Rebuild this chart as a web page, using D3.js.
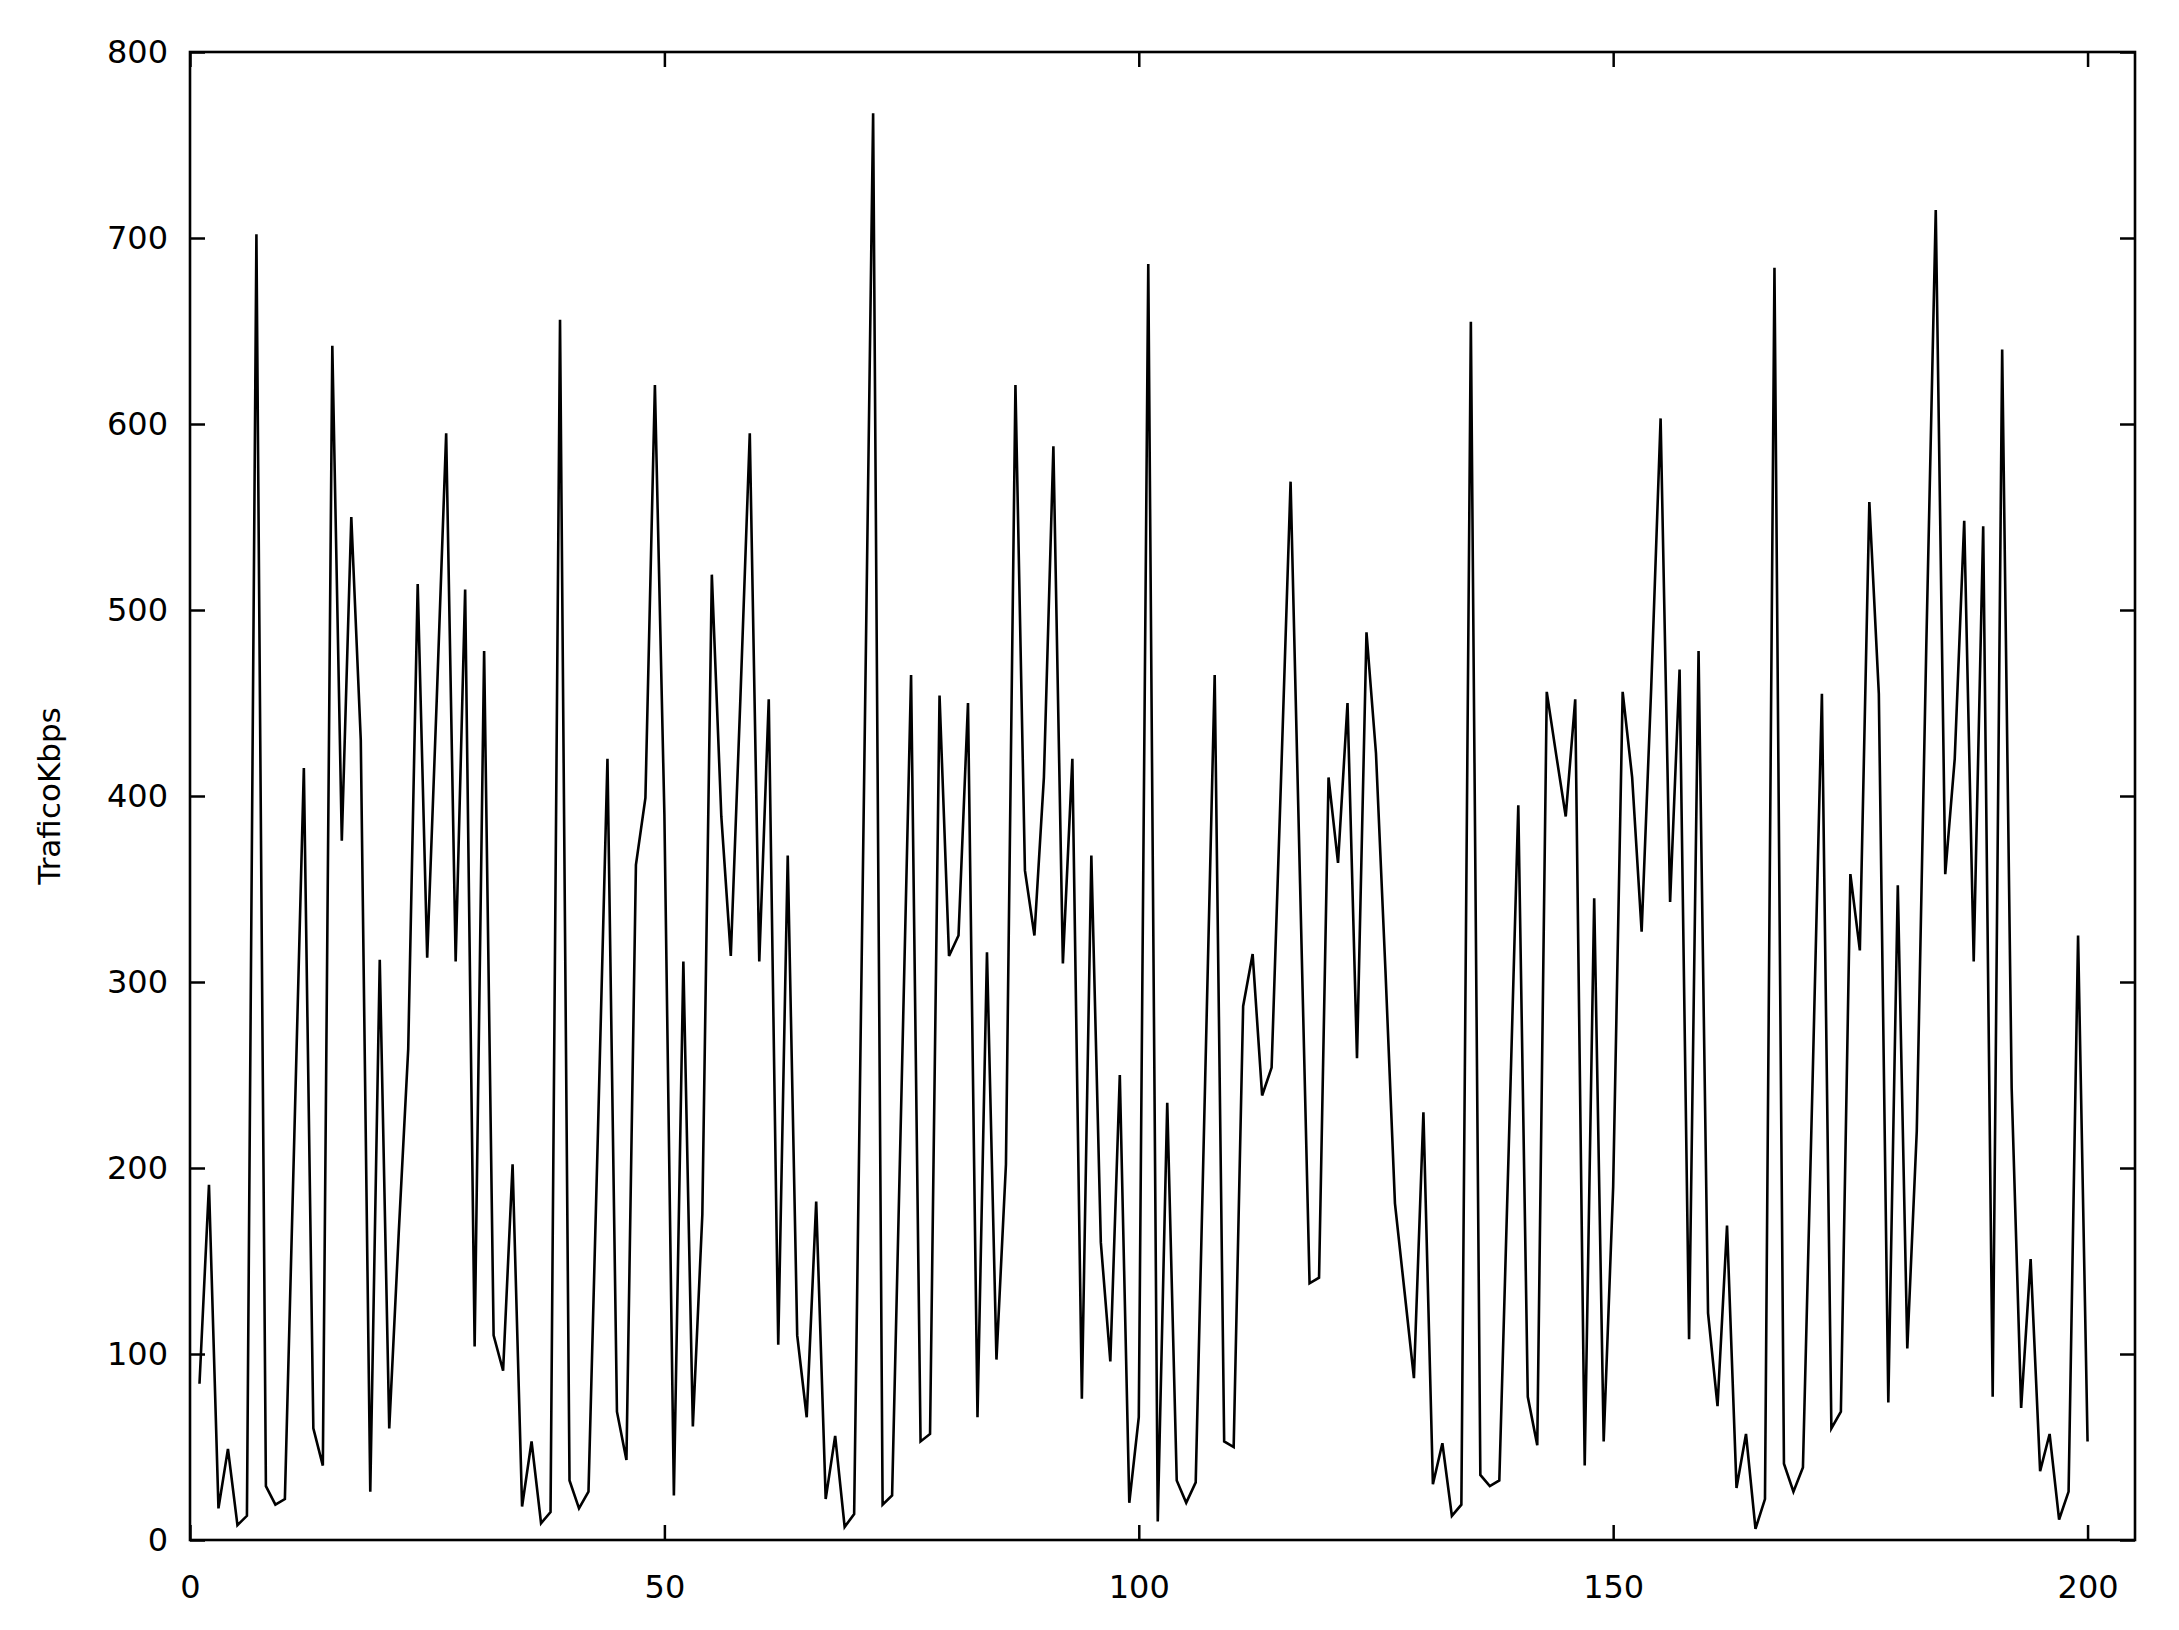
<!DOCTYPE html>
<html>
<head>
<meta charset="utf-8">
<script src="https://d3js.org/d3.v7.min.js"></script>
<style>
  body { margin: 0; background: #fff; }
  .axis text { font-family: "DejaVu Sans", Verdana, sans-serif; font-size: 32px; fill: #000; }
  .axis line { stroke: #000; stroke-width: 2.5px; }
  .axis path { display: none; }
  .line { fill: none; stroke: #000; stroke-width: 2.6px; stroke-linejoin: miter; }
</style>
</head>
<body>
<script>
// trafico medido, una muestra por segundo (1..200)
var trafico = [
  84, 191, 17, 49, 8, 13, 702, 29, 19, 22,
  218, 415, 60, 40, 642, 376, 550, 430, 26, 312,
  60, 165, 264, 514, 313, 451, 595, 311, 511, 104,
  478, 110, 91, 202, 18, 53, 9, 15, 656, 32,
  17, 26, 220, 420, 69, 43, 363, 399, 621, 390,
  24, 311, 61, 175, 519, 389, 314, 451, 595, 311,
  452, 105, 368, 110, 66, 182, 22, 56, 7, 14,
  389, 767, 19, 24, 243, 465, 53, 57, 454, 314,
  325, 450, 66, 316, 97, 202, 621, 360, 325, 410,
  588, 310, 420, 76, 368, 160, 96, 250, 20, 66,
  686, 10, 235, 32, 20, 31, 248, 465, 53, 50,
  287, 315, 239, 254, 410, 569, 353, 138, 141, 410,
  364, 450, 259, 488, 423, 306, 181, 134, 87, 230,
  30, 52, 13, 19, 655, 35, 29, 32, 212, 395,
  77, 51, 456, 422, 389, 452, 40, 345, 53, 190,
  456, 410, 327, 457, 603, 343, 468, 108, 478, 122,
  72, 169, 28, 57, 6, 22, 684, 41, 26, 39,
  243, 455, 60, 69, 358, 317, 558, 455, 74, 352,
  103, 220, 480, 715, 358, 420, 548, 311, 545, 77,
  640, 243, 71, 151, 37, 57, 11, 26, 325, 53
];
var muestras = d3.range(1, trafico.length + 1);
var xTicks = [0, 50, 100, 150, 200];
var yTicks = [0, 100, 200, 300, 400, 500, 600, 700, 800];
var yLabel = "TraficoKbps";

var margin = { top: 52, right: 44, bottom: 90, left: 190 },
  width = 2179 - margin.left - margin.right,
  height = 1630 - margin.top - margin.bottom;

var x = d3.scaleLinear().domain([0, 205]).range([0, width]);
var y = d3.scaleLinear().domain([0, 800]).range([height, 0]);

var data = muestras.map(function (d, i) {
  return { t: d, value: trafico[i] };
});

var svg = d3
  .select("body")
  .append("svg")
  .attr("width", width + margin.left + margin.right)
  .attr("height", height + margin.top + margin.bottom)
  .append("g")
  .attr("transform", "translate(" + margin.left + "," + margin.top + ")");

// ejes con marcas hacia dentro, estilo gnuplot
svg
  .append("g")
  .attr("class", "x axis")
  .attr("transform", "translate(0," + height + ")")
  .call(d3.axisBottom(x).tickValues(xTicks).tickSizeInner(-15).tickSizeOuter(0).tickPadding(35));

svg
  .append("g")
  .attr("class", "x axis")
  .call(d3.axisTop(x).tickValues(xTicks).tickSizeInner(-15).tickSizeOuter(0).tickFormat(""));

svg
  .append("g")
  .attr("class", "y axis")
  .call(d3.axisLeft(y).tickValues(yTicks).tickSizeInner(-15).tickSizeOuter(0).tickPadding(22));

svg
  .append("g")
  .attr("class", "y axis")
  .attr("transform", "translate(" + width + ",0)")
  .call(d3.axisRight(y).tickValues(yTicks).tickSizeInner(-15).tickSizeOuter(0).tickFormat(""));

svg
  .append("text")
  .attr("transform", "translate(" + (49 - margin.left) + "," + height / 2 + ") rotate(-90)")
  .attr("text-anchor", "middle")
  .attr("dy", "0.35em")
  .style("font-family", '"DejaVu Sans", Verdana, sans-serif')
  .style("font-size", "31px")
  .text(yLabel);

var line = d3
  .line()
  .x(function (d) {
    return x(d.t);
  })
  .y(function (d) {
    return y(d.value);
  });

svg.append("path").datum(data).attr("class", "line").attr("d", line);

// marco
svg
  .append("rect")
  .attr("width", width)
  .attr("height", height)
  .style("fill", "none")
  .style("stroke", "#000")
  .style("stroke-width", 2.6);
</script>
</body>
</html>
